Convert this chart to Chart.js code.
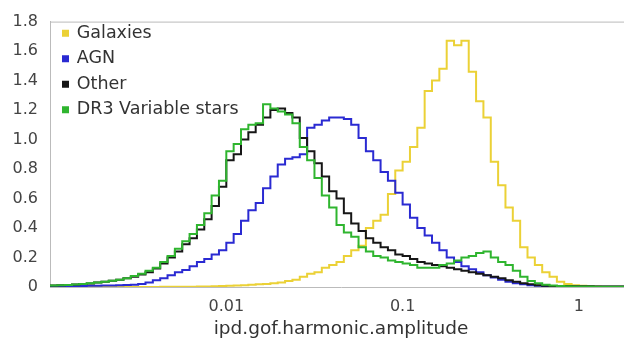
<!DOCTYPE html>
<html>
<head>
<meta charset="utf-8">
<script src="https://cdn.jsdelivr.net/npm/chart.js@4.4.1/dist/chart.umd.min.js"></script>
<style>
  html, body { margin: 0; padding: 0; background: #fff; overflow: hidden; }
  #wrap { width: 633px; height: 341px; }
</style>
</head>
<body>
<div id="wrap"><canvas id="ampChart"></canvas></div>
<script>
// log-spaced histogram bins: 24 per decade from 0.001
const binStart = 0.001;
const binsPerDecade = 24;

const seriesNames = ["Galaxies", "AGN", "Other", "DR3 Variable stars"];
const seriesColors = ["#ebd136", "#2a2ad2", "#161616", "#2fb52f"];

// normalised counts per bin
const galaxies = [
  0, 0, 0, 0, 0, 0, 0, 0, 0, 0, 0, 0, 0, 0, 0,
  0.001, 0.001, 0.002, 0.002, 0.002, 0.003, 0.004, 0.005, 0.006, 0.008,
  0.01, 0.012, 0.015, 0.018, 0.02, 0.025, 0.03, 0.04, 0.05, 0.07,
  0.09, 0.1, 0.13, 0.15, 0.17, 0.21, 0.25, 0.28, 0.4, 0.45,
  0.49, 0.63, 0.79, 0.85, 0.95, 1.08, 1.33, 1.4, 1.48, 1.67,
  1.64, 1.67, 1.46, 1.26, 1.15, 0.85, 0.69, 0.54, 0.45, 0.27,
  0.2, 0.15, 0.1, 0.07, 0.035, 0.02, 0.012, 0.008, 0.005, 0.003,
  0.002, 0.001, 0.001, 0.001, 0.001
];
const agn = [
  0.003, 0.004, 0.005, 0.006, 0.007, 0.008, 0.009, 0.01, 0.011, 0.012,
  0.013, 0.015, 0.02, 0.03, 0.045, 0.06, 0.08, 0.1, 0.115, 0.14,
  0.17, 0.19, 0.22, 0.25, 0.3, 0.36, 0.45, 0.52, 0.57, 0.67,
  0.75, 0.83, 0.87, 0.88, 0.9, 1.08, 1.1, 1.13, 1.15, 1.15,
  1.14, 1.1, 1.01, 0.92, 0.86, 0.78, 0.72, 0.64, 0.56, 0.47,
  0.4, 0.35, 0.3, 0.25, 0.2, 0.17, 0.14, 0.12, 0.1, 0.08,
  0.065, 0.05, 0.035, 0.025, 0.018, 0.012, 0.008, 0.006, 0.004, 0.003,
  0.002, 0.002, 0.001, 0.001, 0.001, 0.001, 0.001, 0.001, 0.001, 0.001
];
const other = [
  0.01, 0.012, 0.014, 0.017, 0.02, 0.024, 0.03, 0.035, 0.042, 0.05,
  0.06, 0.07, 0.085, 0.1, 0.125, 0.16, 0.2, 0.24, 0.29, 0.33,
  0.39, 0.46, 0.55, 0.68, 0.86, 0.9, 1.0, 1.05, 1.1, 1.15,
  1.2, 1.21, 1.18, 1.15, 1.01, 0.92, 0.84, 0.75, 0.65, 0.6,
  0.5, 0.43, 0.38, 0.33, 0.3, 0.27, 0.25, 0.22, 0.21, 0.19,
  0.17, 0.16, 0.15, 0.14, 0.13, 0.12, 0.11, 0.1, 0.09, 0.08,
  0.07, 0.06, 0.045, 0.035, 0.025, 0.018, 0.012, 0.009, 0.007, 0.006,
  0.006, 0.005, 0.005, 0.005, 0.004, 0.004, 0.004, 0.004, 0.004, 0.003
];
const variables = [
  0.01, 0.012, 0.014, 0.017, 0.02, 0.025, 0.03, 0.035, 0.042, 0.05,
  0.06, 0.075, 0.09, 0.11, 0.13, 0.17, 0.21, 0.26, 0.31, 0.36,
  0.42, 0.5, 0.62, 0.72, 0.92, 0.97, 1.07, 1.1, 1.11, 1.24,
  1.21, 1.19, 1.17, 1.11, 0.95, 0.86, 0.74, 0.62, 0.54, 0.42,
  0.37, 0.34, 0.27, 0.24, 0.21, 0.2, 0.18, 0.17, 0.16, 0.15,
  0.13, 0.13, 0.13, 0.15, 0.16, 0.18, 0.2, 0.21, 0.23, 0.24,
  0.2, 0.17, 0.15, 0.11, 0.07, 0.04, 0.025, 0.015, 0.01, 0.007,
  0.005, 0.004, 0.003, 0.003, 0.002, 0.002, 0.002, 0.002, 0.002, 0.002
];

const xTickValues = [0.01, 0.1, 1];
const xTickLabels = ["0.01", "0.1", "1"];
const yTickValues = [0, 0.2, 0.4, 0.6, 0.8, 1.0, 1.2, 1.4, 1.6, 1.8];
const yTickLabels = ["0", "0.2", "0.4", "0.6", "0.8", "1.0", "1.2", "1.4", "1.6", "1.8"];

const seriesValues = [galaxies, agn, other, variables];

const edges = [];
for (let i = 0; i <= galaxies.length; i++) {
  edges.push(binStart * Math.pow(10, i / binsPerDecade));
}

// one point per left bin edge, plus the closing right edge
function stepPoints(values) {
  const pts = values.map((v, i) => ({ x: edges[i], y: v }));
  pts.push({ x: edges[values.length], y: values[values.length - 1] });
  return pts;
}

// grey line along the top of the plot box
const topFrame = {
  id: "topFrame",
  afterDraw(chart) {
    const { ctx, chartArea } = chart;
    ctx.save();
    ctx.strokeStyle = "#bbbbbb";
    ctx.lineWidth = 1;
    ctx.beginPath();
    ctx.moveTo(chartArea.left, chartArea.top + 0.5);
    ctx.lineTo(chartArea.right, chartArea.top + 0.5);
    ctx.stroke();
    ctx.restore();
  }
};

// the chartArea legend lands at the canvas top, move it into the plot corner
const legendInset = {
  id: "legendInset",
  afterLayout(chart) {
    const lg = chart.legend;
    if (!lg) return;
    lg.left = chart.chartArea.left + 5;
    lg.top = chart.chartArea.top - 5;
  }
};

const fontFamily = "'DejaVu Sans', sans-serif";

new Chart(document.getElementById("ampChart"), {
  type: "line",
  data: {
    datasets: seriesNames.map((name, k) => ({
      label: name,
      data: stepPoints(seriesValues[k]),
      borderColor: seriesColors[k],
      backgroundColor: seriesColors[k],
      borderWidth: 2,
      stepped: true,
      pointRadius: 0,
      fill: false,
      order: seriesNames.length - 1 - k
    }))
  },
  options: {
    responsive: true,
    maintainAspectRatio: false,
    animation: false,
    layout: { padding: { top: 20, right: 1, left: 0, bottom: 0 } },
    plugins: {
      tooltip: { enabled: false },
      legend: {
        position: "chartArea",
        align: "start",
        labels: {
          boxWidth: 5,
          boxHeight: 5,
          padding: 8,
          color: "#333",
          font: { family: fontFamily, size: 17.5 },
          sort: (a, b) => a.datasetIndex - b.datasetIndex
        }
      }
    },
    scales: {
      x: {
        type: "logarithmic",
        position: "bottom",
        min: 0.001,
        max: 2,
        grid: { display: false, drawTicks: false },
        border: { display: true, color: "#bbbbbb" },
        afterBuildTicks: (s) => { s.ticks = xTickValues.map(v => ({ value: v })); },
        afterFit: (s) => { s.height = 54; },
        ticks: {
          autoSkip: false,
          maxRotation: 0,
          padding: 10,
          color: "#444",
          font: { family: fontFamily, size: 16 },
          callback: (v, i) => xTickLabels[i]
        },
        title: {
          display: true,
          text: "ipd.gof.harmonic.amplitude",
          color: "#333",
          font: { family: fontFamily, size: 18.5 },
          padding: { top: 0, bottom: 1 }
        }
      },
      y: {
        type: "linear",
        min: 0,
        max: 1.8,
        grid: { display: false, drawTicks: false },
        border: { display: true, color: "#bbbbbb" },
        afterBuildTicks: (s) => { s.ticks = yTickValues.map(v => ({ value: v })); },
        afterFit: (s) => { s.width = 50; },
        ticks: {
          padding: 12,
          color: "#444",
          font: { family: fontFamily, size: 16 },
          callback: (v, i) => yTickLabels[i]
        }
      }
    }
  },
  plugins: [topFrame, legendInset]
});
</script>
</body>
</html>
